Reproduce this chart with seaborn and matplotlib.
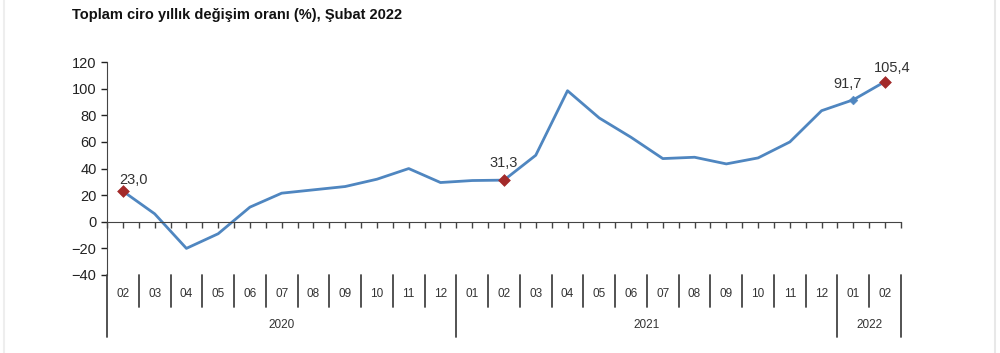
import matplotlib
matplotlib.use("Agg")
import matplotlib.pyplot as plt
import matplotlib.transforms as mtransforms
import seaborn as sns
import numpy as np
import pandas as pd

months = ["02", "03", "04", "05", "06", "07", "08", "09", "10", "11", "12",
          "01", "02", "03", "04", "05", "06", "07", "08", "09", "10", "11", "12",
          "01", "02"]
years = ["2020", "2021", "2022"]
year_counts = [11, 12, 2]
values = [23.0, 6.0, -20.0, -9.0, 11.0, 21.5, 24.0, 26.5, 32.0, 40.0, 29.5,
          31.0, 31.3, 50.0, 98.5, 78.0, 63.5, 47.5, 48.5, 43.5, 48.0, 60.0, 83.5,
          91.7, 105.4]
labelled = {0: "23,0", 12: "31,3", 23: "91,7", 24: "105,4"}
label_offsets = {0: (8, 3), 12: (0, 7), 23: (-4, 6.5), 24: (5, 5)}
red_points = [0, 12, 24]
blue_points = [23]

df = pd.DataFrame({"pos": np.arange(len(values)), "value": values})

sns.set_style("white")
plt.rcParams["font.family"] = ["Liberation Sans", "DejaVu Sans"]

fig = plt.figure(figsize=(10, 3.53), dpi=100)
ax = fig.add_axes([0.107, 0.221, 0.794, 0.603])

line_color = "#4f86c0"
sns.lineplot(data=df, x="pos", y="value", ax=ax, color=line_color, linewidth=2)
sns.scatterplot(data=df.iloc[red_points], x="pos", y="value", ax=ax,
                marker="D", s=36, color="#a32a2a", edgecolor="#a32a2a", zorder=5)
sns.scatterplot(data=df.iloc[blue_points], x="pos", y="value", ax=ax,
                marker="D", s=20, color=line_color, edgecolor=line_color, zorder=5)

for i, txt in labelled.items():
    dx, dy = label_offsets[i]
    ax.annotate(txt, (i, values[i]), xytext=(dx, dy), textcoords="offset points",
                ha="center", va="bottom", fontsize=10.5, color="#333333")

ax.set_xlim(-0.5, len(values) - 0.5)
ax.set_ylim(-40, 120)
ax.set_yticks(np.arange(-40, 121, 20))
ax.tick_params(axis="y", labelsize=10.5, colors="#222222", direction="out",
               length=4, width=1, left=True)
ax.set_xlabel("")
ax.set_ylabel("")

for side in ["top", "right"]:
    ax.spines[side].set_visible(False)
ax.spines["left"].set_color("#444444")
ax.spines["bottom"].set_color("#444444")
ax.spines["bottom"].set_position(("data", 0))
ax.set_xticks(np.arange(-0.5, len(values), 0.5))
ax.set_xticklabels([])
ax.tick_params(axis="x", direction="out", length=4, width=1, colors="#444444",
               bottom=True)

# category table below the plot
trans = mtransforms.blended_transform_factory(ax.transData, fig.transFigure)
for i, m in enumerate(months):
    ax.text(i, 0.168, m, transform=trans, ha="center", va="center",
            fontsize=8.5, color="#333333")
boundaries = np.cumsum([0] + year_counts) - 0.5
for b in np.arange(-0.5, len(values), 1.0):
    if b in boundaries:
        ax.plot([b, b], [0.221, 0.045], transform=trans, color="#444444",
                lw=1.3, clip_on=False)
    else:
        ax.plot([b, b], [0.221, 0.130], transform=trans, color="#444444",
                lw=1.3, clip_on=False)
for y, a, b in zip(years, boundaries[:-1], boundaries[1:]):
    ax.text((a + b) / 2, 0.080, y, transform=trans, ha="center", va="center",
            fontsize=8.5, color="#333333")

fig.text(0.072, 0.958, "Toplam ciro yıllık değişim oranı (%), Şubat 2022",
         fontsize=10.5, fontweight="bold", ha="left", va="center", color="#111111")

# faint page edges
fig.add_artist(plt.Line2D([0.995, 0.995], [0, 1], color="#e8e8e8", lw=1.5))
fig.add_artist(plt.Line2D([0.004, 0.004], [0, 1], color="#eeeeee", lw=1.5))

fig.savefig("out.png", dpi=100)
